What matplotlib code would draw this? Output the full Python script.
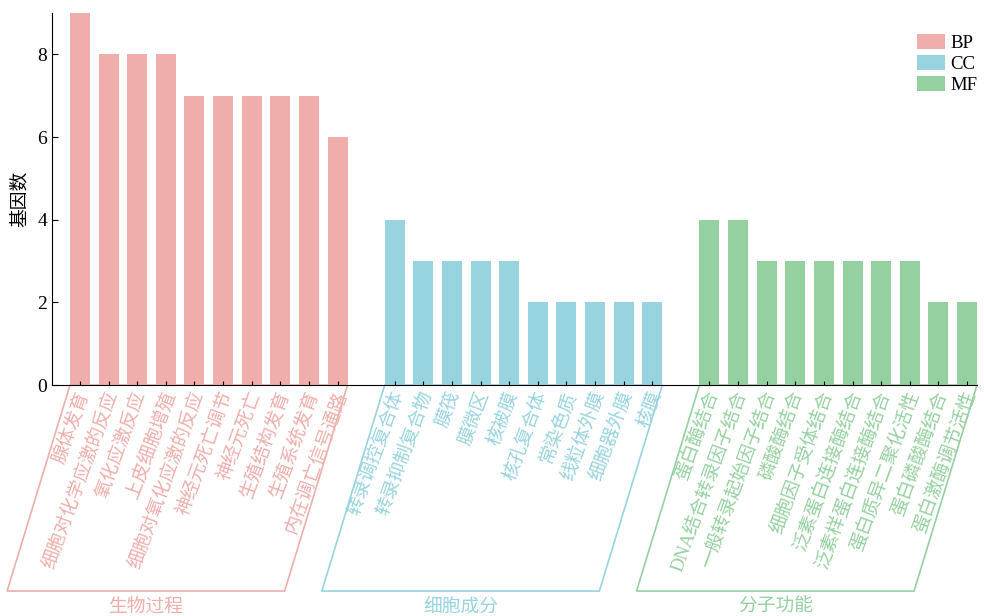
import numpy as np
import matplotlib
matplotlib.use('Agg')
import matplotlib.pyplot as plt
import matplotlib.transforms as mtransforms
from matplotlib.patches import Polygon, Patch

plt.rcParams['font.family'] = ['Liberation Serif', 'Noto Sans CJK SC']

bp_terms = ['腺体发育', '细胞对化学应激的反应', '氧化应激反应', '上皮细胞增殖', '细胞对氧化应激的反应',
            '神经元死亡调节', '神经元死亡', '生殖结构发育', '生殖系统发育', '内在调亡信号通路']
bp_counts = [9, 8, 8, 8, 7, 7, 7, 7, 7, 6]
cc_terms = ['转录调控复合体', '转录抑制复合物', '膜筏', '膜微区', '核被膜',
            '核孔复合体', '常染色质', '线粒体外膜', '细胞器外膜', '核膜']
cc_counts = [4, 3, 3, 3, 3, 2, 2, 2, 2, 2]
mf_terms = ['蛋白酶结合', 'DNA结合转录因子结合', '一般转录起始因子结合', '磷酸酶结合', '细胞因子受体结合',
            '泛素蛋白连接酶结合', '泛素样蛋白连接酶结合', '蛋白质异二聚化活性', '蛋白磷酸酶结合', '蛋白激酶调节活性']
mf_counts = [4, 4, 3, 3, 3, 3, 3, 3, 2, 2]

groups = [('BP', '生物过程', bp_terms, bp_counts, '#efaeab'),
          ('CC', '细胞成分', cc_terms, cc_counts, '#97d4df'),
          ('MF', '分子功能', mf_terms, mf_counts, '#95d1a0')]

fig = plt.figure(figsize=(9.84, 6.16), dpi=100)
ax = fig.add_axes([52 / 984, 1 - 385 / 616, 925 / 984, 372 / 616])

w = 0.7
start = 0
all_pos = []
trans = mtransforms.blended_transform_factory(ax.transData, ax.transAxes)
lab_trans = trans + mtransforms.ScaledTranslation(3 / 72, -5 / 72, fig.dpi_scale_trans)
handles = []
for key, name, terms, counts, col in groups:
    pos = np.arange(start, start + len(terms))
    ax.bar(pos, counts, width=w, color=col)
    all_pos += list(pos)
    for p, term in zip(pos, terms):
        ax.text(p, 0, term, color=col, fontsize=13.5, rotation=70, rotation_mode='anchor',
                ha='right', va='center', transform=lab_trans, clip_on=False)
    # parallelogram around the labels
    x0 = pos[0] - w / 2
    x1 = pos[-1] + w / 2
    shift = 2.2
    yb = -0.554
    poly = Polygon([[x0, 0], [x1, 0], [x1 - shift, yb], [x0 - shift, yb]], closed=True,
                   fill=False, edgecolor=col, lw=1.2, transform=trans, clip_on=False)
    ax.add_patch(poly)
    ax.text((x0 + x1) / 2 - shift, yb - 0.02, name, color=col, fontsize=13.5,
            ha='center', va='top', transform=trans)
    handles.append(Patch(facecolor=col, label=key))
    start += len(terms) + 1

ax.set_xticks(all_pos)
ax.set_xticklabels([])
ax.tick_params(axis='x', direction='in', length=3)
ax.tick_params(axis='y', direction='in', length=4, labelsize=14)

ax.set_xlim(-0.98, all_pos[-1] + w / 2)
ax.set_ylim(0, 9)
ax.set_yticks([0, 2, 4, 6, 8])
ax.set_ylabel('基因数', fontsize=13.5, labelpad=6)
ax.spines['top'].set_visible(False)
ax.spines['right'].set_visible(False)

ax.legend(handles=handles, loc='upper right', bbox_to_anchor=(1.019, 0.99), frameon=False,
          fontsize=13.5, handlelength=1.5, handleheight=0.9, handletextpad=0.3, labelspacing=0.15)

fig.savefig('out.png', dpi=100)
